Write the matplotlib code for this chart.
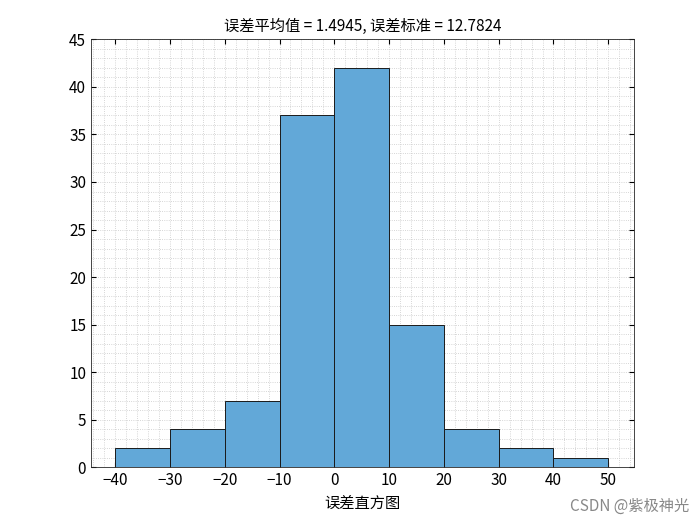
import matplotlib
matplotlib.use('Agg')
import matplotlib.pyplot as plt
import numpy as np
from matplotlib.ticker import MultipleLocator

plt.rcParams['font.family'] = ['Noto Sans CJK SC', 'DejaVu Sans']

bin_edges = [-40, -30, -20, -10, 0, 10, 20, 30, 40, 50]
counts = [2, 4, 7, 37, 42, 15, 4, 2, 1]
title = '误差平均值 = 1.4945, 误差标准 = 12.7824'
xlabel = '误差直方图'

fig = plt.figure(figsize=(7, 5.25), dpi=100)
ax = fig.add_axes([0.13, 0.11, 0.775, 0.815])
ax.bar(bin_edges[:-1], counts, width=np.diff(bin_edges), align='edge',
       color='#62a8d8', edgecolor='#1a1a1a', linewidth=0.7, zorder=3)
ax.set_xlim(-44.4, 54.6)
ax.set_ylim(0, 45)
ax.set_xticks(range(-40, 51, 10))
ax.set_yticks(range(0, 46, 5))
ax.xaxis.set_minor_locator(MultipleLocator(2))
ax.yaxis.set_minor_locator(MultipleLocator(1))
ax.grid(which='both', linestyle=':', color='#c8c8c8', linewidth=0.6, zorder=0)
ax.tick_params(which='both', direction='in', top=True, right=True, labelsize=11)
ax.tick_params(which='minor', length=0)
for s in ax.spines.values():
    s.set_color('#262626'); s.set_linewidth(0.6)
ax.set_title(title, fontsize=11)
ax.set_xlabel(xlabel, fontsize=11)
fig.text(0.985, 0.02, 'CSDN @紫极神光', ha='right', va='bottom', fontsize=11, color='#888888')
fig.savefig('out.png')
